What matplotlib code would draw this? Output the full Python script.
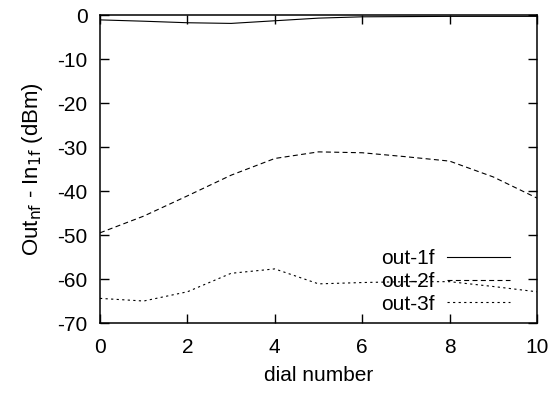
import matplotlib
matplotlib.use("Agg")
import matplotlib.pyplot as plt

plt.rcParams["font.family"] = ["Liberation Sans", "DejaVu Sans"]
plt.rcParams["font.size"] = 15
plt.rcParams["axes.unicode_minus"] = False

dial = [0, 1, 2, 3, 4, 5, 6, 7, 8, 9, 10]
out_1f = [-1.1, -1.4, -1.75, -1.9, -1.3, -0.7, -0.4, -0.35, -0.3, -0.3, -0.3]
out_2f = [-49.5, -45.7, -41.1, -36.4, -32.6, -31.1, -31.3, -32.2, -33.2, -36.8, -41.6]
out_3f = [-64.4, -65.0, -62.9, -58.7, -57.7, -61.1, -60.8, -60.6, -60.6, -61.7, -62.9]

x_ticks = [0, 2, 4, 6, 8, 10]
y_ticks = [-70, -60, -50, -40, -30, -20, -10, 0]


def main():
    fig = plt.figure(figsize=(5.54, 3.96), dpi=100)
    ax = fig.add_axes([0.1805, 0.1843, 0.7888, 0.7777])

    ax.plot(dial, out_1f, color="black", lw=0.8, label="out-1f")
    ax.plot(dial, out_2f, color="black", lw=0.8, dashes=(4.5, 3), label="out-2f")
    ax.plot(dial, out_3f, color="black", lw=0.8, dashes=(2, 3), label="out-3f")

    ax.set_xlim(0, 10)
    ax.set_ylim(-70, 0)
    ax.set_xticks(x_ticks)
    ax.set_yticks(y_ticks)
    ax.tick_params(axis="both", direction="in", length=6.5, width=1, top=True, right=True)
    ax.tick_params(axis="x", pad=11)
    ax.tick_params(axis="y", pad=9)
    for sp in ax.spines.values():
        sp.set_linewidth(1.1)

    ax.set_xlabel("dial number", labelpad=6)
    ax.set_ylabel(r"Out$_{\mathrm{nf}}$ - In$_{\mathrm{1f}}$ (dBm)", fontsize=16, labelpad=9)

    leg = ax.legend(
        loc="lower right",
        bbox_to_anchor=(0.938, 0.03),
        frameon=False,
        markerfirst=False,
        handlelength=3.0,
        handletextpad=0.6,
        labelspacing=0.18,
        borderpad=0,
        borderaxespad=0,
    )
    for t in leg.get_texts():
        t.set_ha("right")

    fig.savefig("out.png", dpi=100)
    plt.close(fig)


if __name__ == "__main__":
    main()
